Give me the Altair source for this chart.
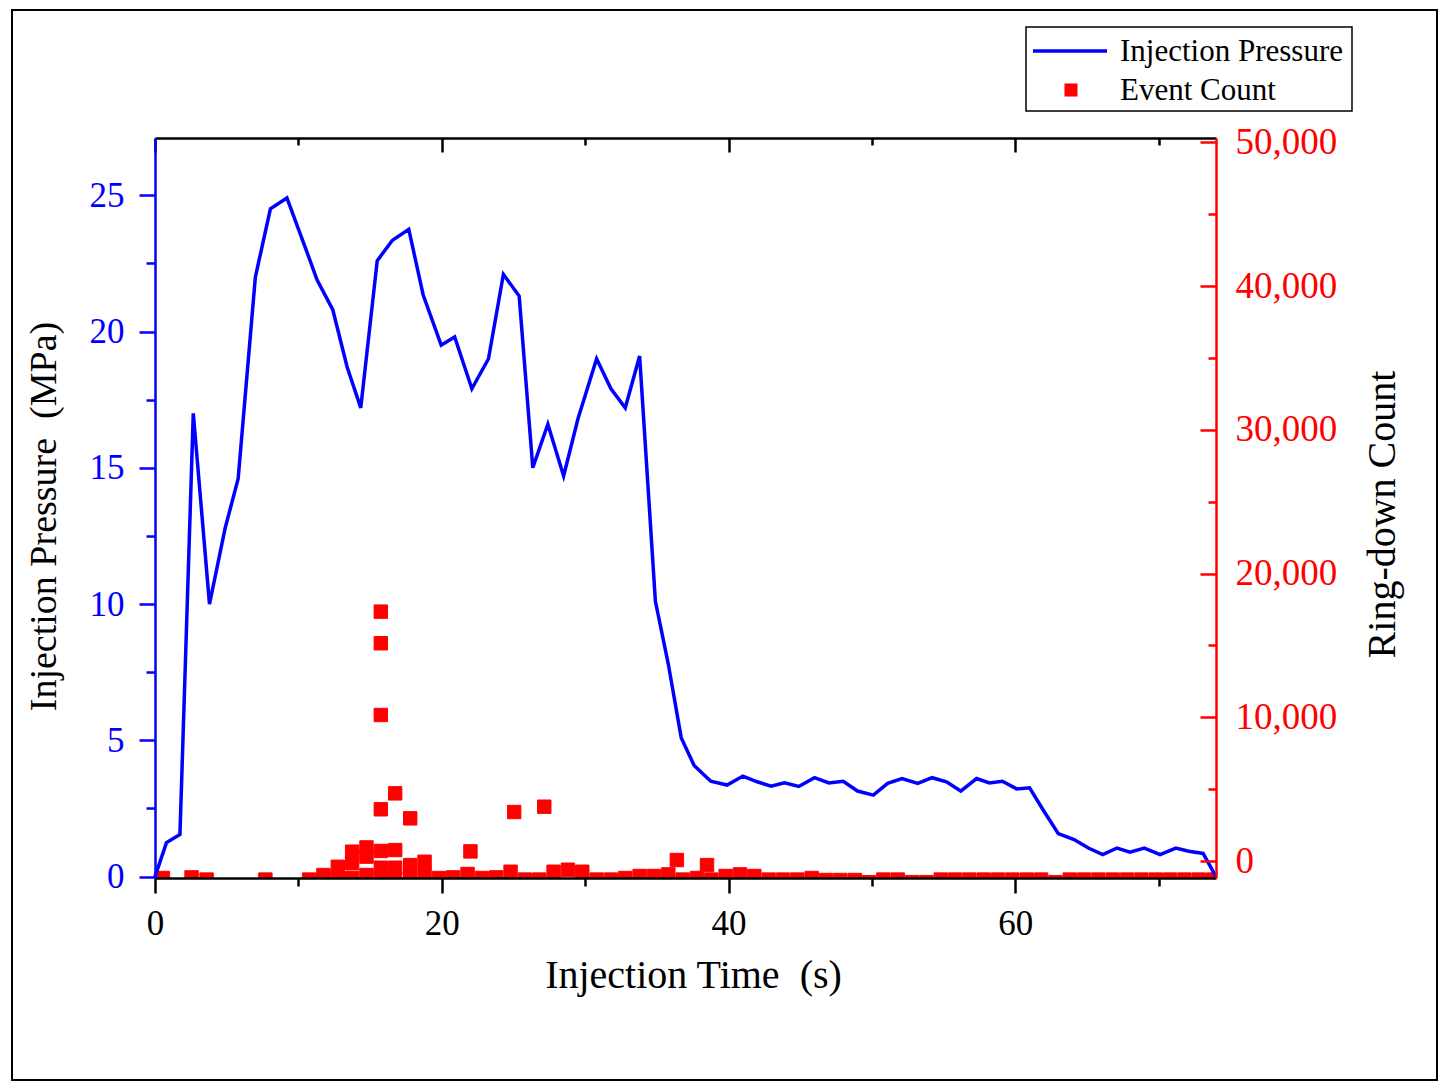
import altair as alt
import pandas as pd

BLUE = "#0000FF"
RED = "#FF0000"
SERIF = "Liberation Serif"

# injection pressure curve: time (s) / pressure (MPa)
p_time = [0.0, 0.8, 1.74, 2.67, 3.8, 4.9, 5.8, 7.0, 8.05, 9.2,
          10.47, 11.3, 12.4, 13.4, 14.35, 15.5, 16.56, 17.7, 18.7, 19.96,
          20.9, 22.1, 23.26, 24.3, 25.4, 26.35, 27.4, 28.5, 29.5, 30.8,
          31.8, 32.8, 33.8, 34.9, 35.8, 36.7, 37.6, 38.76, 39.9, 41.0,
          42.0, 42.97, 43.9, 44.9, 46.0, 47.0, 48.0, 49.0, 50.1, 51.1,
          52.1, 53.2, 54.2, 55.2, 56.2, 57.3, 58.2, 59.1, 60.1, 61.0,
          62.0, 63.0, 64.1, 65.1, 66.1, 67.1, 68.0, 69.0, 70.1, 71.2,
          72.1, 73.1, 74.0]
p_val = [0.0, 1.25, 1.55, 17.0, 10.0, 12.8, 14.6, 22.0, 24.5, 24.9,
         23.1, 21.9, 20.8, 18.7, 17.2, 22.6, 23.35, 23.75, 21.35, 19.5,
         19.8, 17.9, 19.0, 22.1, 21.3, 15.0, 16.6, 14.7, 16.8, 19.0,
         17.9, 17.2, 19.1, 10.1, 7.8, 5.1, 4.08, 3.5, 3.36, 3.69,
         3.48, 3.32, 3.44, 3.31, 3.63, 3.44, 3.5, 3.14, 2.99, 3.42,
         3.6, 3.42, 3.63, 3.48, 3.14, 3.6, 3.44, 3.5, 3.22, 3.26,
         2.4, 1.58, 1.36, 1.05, 0.81, 1.05, 0.9, 1.05, 0.81, 1.05,
         0.93, 0.85, 0.0]

# acoustic emission events: time (s) / ring-down count
ev_time = [0.55, 2.55, 3.6, 7.7,
           10.75, 11.75, 11.75, 12.75, 12.75, 13.75, 13.75, 13.75,
           14.75, 14.75, 14.75,
           15.75, 15.75, 15.75, 15.75, 15.75, 15.75, 15.75,
           16.75, 16.75, 16.75, 16.75,
           17.8, 17.8, 17.8, 18.8, 18.8, 19.8, 20.8, 21.8, 22.0, 22.8, 23.8,
           24.8, 25.05, 25.8, 26.8, 27.15, 27.8, 28.8, 29.8, 30.8, 31.8, 32.8,
           33.8, 34.8, 35.8, 36.4, 36.8, 37.8, 38.5, 38.8, 39.8, 40.8, 41.8,
           42.8, 43.8, 44.8, 45.8, 46.8, 47.8, 48.8, 49.8, 50.8, 51.8,
           52.8, 53.8, 54.8, 55.8, 56.8, 57.8, 58.8, 59.8, 60.8, 61.8,
           62.8, 63.8, 64.8, 65.8, 66.8, 67.8, 68.8, 69.8, 70.8, 71.8,
           72.8, 73.8]
ev_count = [-1180, -1140, -1290, -1290,
            -1290, -975, -1290, -400, -1180, 650, -150, -1180,
            945, 310, -975,
            17350, 15150, 10160, 3600, 700, -465, -1180,
            4710, 765, -465, -1180,
            2970, -280, -1180, -50, -900, -1180, -1140, -900, 670, -1180, -1140,
            -745, 3410, -1290, -1290, 3780, -745, -605, -745, -1290, -1290, -1180,
            -1040, -1040, -930, 70, -1290, -1180, -280, -1290, -1040, -930, -1040,
            -1290, -1290, -1290, -1180, -1320, -1320, -1320, -1470, -1290, -1290,
            -1470, -1470, -1290, -1290, -1290, -1290, -1290, -1290, -1290, -1290,
            -1470, -1290, -1290, -1290, -1290, -1290, -1290, -1290, -1290, -1290,
            -1290, -1290]

x_ticks = [0, 10, 20, 30, 40, 50, 60, 70]
left_ticks = [0, 2.5, 5, 7.5, 10, 12.5, 15, 17.5, 20, 22.5, 25]
right_labels = [0, 10000, 20000, 30000, 40000, 50000]
right_ticks = [0, 5000, 10000, 15000, 20000, 25000, 30000, 35000, 40000, 45000, 50000]

press = pd.DataFrame({"t": p_time, "p": p_val})
events = pd.DataFrame({"t": ev_time, "n": ev_count})
one = pd.DataFrame({"k": [0]})

W, H = 1061, 740
x_scale = alt.Scale(domain=[0, 74], nice=False, zero=False)
l_scale = alt.Scale(domain=[-0.05, 27.1], nice=False, zero=False)
r_scale = alt.Scale(domain=[-1180, 50300], nice=False, zero=False)


def size_cond(test, major, minor):
    return {"condition": {"test": test, "value": major}, "value": minor}


bottom_axis = alt.Axis(
    orient="bottom", values=x_ticks, grid=False, zindex=1,
    labelExpr="datum.value % 20 === 0 ? datum.label : ''",
    tickSize=size_cond("datum.value % 20 === 0", 15, 8),
    tickColor="black", tickWidth=2.5, domainColor="black", domainWidth=2.5,
    labelFont=SERIF, labelFontSize=35, labelColor="black", labelPadding=13,
    labelFlush=False, labelOverlap=False,
    title="Injection Time\u00a0 (s)", titleFont=SERIF, titleFontSize=40,
    titleFontWeight="normal", titleColor="black",
    titleX=538, titleY=109, titleAlign="center", titleBaseline="alphabetic",
)

left_axis = alt.Axis(
    orient="left", values=left_ticks, grid=False, zindex=1,
    labelExpr="datum.value % 5 === 0 ? datum.label : ''",
    tickSize=size_cond("datum.value % 5 === 0", 16, 9),
    tickColor=BLUE, tickWidth=2.5, domainColor=BLUE, domainWidth=2.5,
    labelFont=SERIF, labelFontSize=35, labelColor=BLUE, labelPadding=15,
    labelFlush=False, labelOverlap=False,
    title="Injection Pressure\u00a0 (MPa)", titleFont=SERIF, titleFontSize=38,
    titleFontWeight="normal", titleColor="black", titleAngle=270,
    titleX=-100, titleY=378, titleAlign="center", titleBaseline="alphabetic",
)

right_axis = alt.Axis(
    orient="right", values=right_labels, format=",.0f", grid=False, zindex=1,
    ticks=False, tickSize=0, domainColor=RED, domainWidth=2.5,
    labelFont=SERIF, labelFontSize=37, labelColor=RED, labelPadding=19,
    labelFlush=False, labelOverlap=False,
    title="Ring-down Count", titleFont=SERIF, titleFontSize=40,
    titleFontWeight="normal", titleColor="black", titleAngle=270,
    titleX=178, titleY=376, titleAlign="center", titleBaseline="alphabetic",
)

# mirrored axes with ticks pointing into the plot
top_axis = alt.Axis(
    orient="bottom", offset=-H, values=x_ticks, labels=False, grid=False, zindex=1,
    tickSize=size_cond("datum.value % 20 === 0", 14, 7),
    tickColor="black", tickWidth=2.5, domainColor="black", domainWidth=2.5, title=None,
)
right_inner = alt.Axis(
    orient="left", offset=-W, values=right_ticks, labels=False, grid=False, zindex=1,
    domain=False, tickSize=size_cond("datum.value % 10000 === 0", 16, 8),
    tickColor=RED, tickWidth=2.5, title=None,
)

frame = alt.Chart(one).mark_rect(fill="white", stroke="black", strokeWidth=2).encode(
    x=alt.value(-143), x2=alt.value(1282), y=alt.value(-128), y2=alt.value(942)
)

squares = alt.Chart(events).mark_square(
    size=180, color=RED, opacity=1, stroke=RED, strokeWidth=1, clip=True
).encode(
    x=alt.X("t:Q", scale=x_scale, axis=None),
    y=alt.Y("n:Q", scale=r_scale, axis=right_axis),
)

r_ticks_layer = alt.Chart(events).mark_square(opacity=0).encode(
    x=alt.X("t:Q", scale=x_scale, axis=None),
    y=alt.Y("n:Q", scale=r_scale, axis=right_inner),
)

top_layer = alt.Chart(press).mark_line(opacity=0).encode(
    x=alt.X("t:Q", scale=x_scale, axis=top_axis),
    y=alt.Y("p:Q", scale=l_scale, axis=None),
)

line = alt.Chart(press).mark_line(color=BLUE, strokeWidth=3.5).encode(
    x=alt.X("t:Q", scale=x_scale, axis=bottom_axis),
    y=alt.Y("p:Q", scale=l_scale, axis=left_axis),
)

# legend box
leg_box = alt.Chart(one).mark_rect(fill="white", stroke="black", strokeWidth=1.5).encode(
    x=alt.value(871), x2=alt.value(1197), y=alt.value(-111), y2=alt.value(-27)
)
leg_line = alt.Chart(one).mark_rule(color=BLUE, strokeWidth=3.5).encode(
    x=alt.value(878), x2=alt.value(952), y=alt.value(-87)
)
leg_sq = alt.Chart(one).mark_square(size=170, color=RED, opacity=1).encode(
    x=alt.value(916), y=alt.value(-48)
)
leg_t1 = alt.Chart(one).mark_text(
    text="Injection Pressure", font=SERIF, fontSize=31, align="left", baseline="alphabetic", color="black"
).encode(x=alt.value(965), y=alt.value(-77))
leg_t2 = alt.Chart(one).mark_text(
    text="Event Count", font=SERIF, fontSize=31, align="left", baseline="alphabetic", color="black"
).encode(x=alt.value(965), y=alt.value(-38))

chart = alt.layer(
    frame, squares, r_ticks_layer, top_layer, line,
    leg_box, leg_line, leg_sq, leg_t1, leg_t2,
).resolve_scale(
    x="independent", y="independent"
).properties(
    width=W, height=H,
    padding={"left": 147, "top": 130, "right": 223, "bottom": 204},
    autosize=alt.AutoSizeParams(type="none"),
    background="white",
).configure_view(stroke=None)

chart.save("out.html", embed_options={"renderer": "svg", "actions": False})
